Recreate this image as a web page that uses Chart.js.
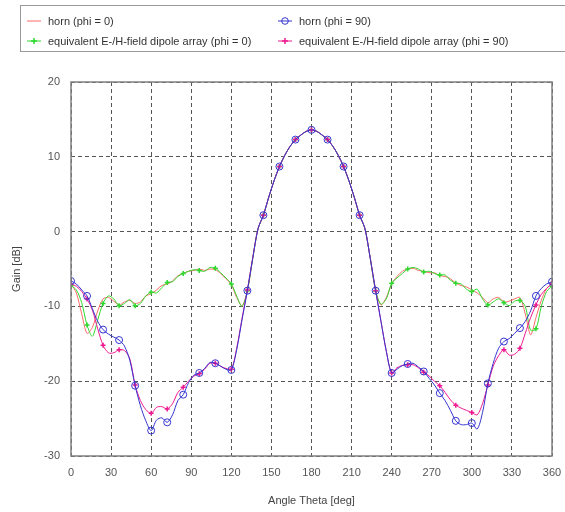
<!DOCTYPE html>
<html>
<head>
<meta charset="utf-8">
<script src="https://cdn.jsdelivr.net/npm/chart.js@4"></script>
<style>
  html,body{margin:0;padding:0;background:#fff;}
  #wrap{position:relative;width:565px;height:512px;}
  #legend{position:absolute;left:20px;top:5px;width:545px;height:47px;border:1px solid #999;border-right:none;box-sizing:border-box;font-family:"Liberation Sans",Arial,sans-serif;font-size:11px;color:#333;}
  .item{position:absolute;display:flex;align-items:center;white-space:nowrap;}
  .item svg{margin-right:7px;}
</style>
</head>
<body>
<div id="wrap">
  <canvas id="c" width="565" height="512"></canvas>
  <div id="legend"></div>
</div>
<script>
// Angle Theta [deg]
const theta = [];
for (let t = 0; t <= 360; t += 4) theta.push(t);

const seriesNames = [
  'horn (phi = 0)',
  'horn (phi = 90)',
  'equivalent E-/H-field dipole array (phi = 0)',
  'equivalent E-/H-field dipole array (phi = 90)'
];

const xTicks = [0,30,60,90,120,150,180,210,240,270,300,330,360];
const yTicks = [-30,-20,-10,0,10,20];

// horn (phi = 0)
const hornPhi0 = [
 -7.0,-8.2,-11.0,-13.6,-12.8,-10.6,-9.0,-8.8,-9.3,-9.8,
 -9.4,-9.2,-9.6,-9.4,-8.6,-8.3,-7.8,-7.2,-7.0,-6.6,
 -5.9,-5.6,-5.3,-5.2,-5.0,-5.2,-5.0,-5.1,-5.6,-6.3,
 -7.1,-8.8,-9.9,-7.9,-3.6,0.4,2.2,4.6,6.8,8.7,
 10.2,11.4,12.3,12.9,13.4,13.6,13.4,12.9,12.3,11.4,
 10.2,8.7,6.8,4.6,2.2,0.4,-3.6,-7.9,-9.8,-8.8,
 -7.0,-6.0,-5.3,-5.0,-4.9,-5.2,-5.3,-5.5,-5.5,-5.9,
 -6.0,-6.3,-6.9,-7.2,-7.4,-7.8,-8.2,-8.8,-9.5,-9.0,
 -8.8,-9.4,-9.3,-9.0,-8.8,-11.0,-13.8,-11.5,-9.2,-7.6,
 -7.0
];

// horn (phi = 90)
const hornPhi90 = [
 -6.6,-7.0,-7.8,-8.6,-10.3,-12.0,-13.1,-13.7,-14.1,-14.5,
 -15.3,-17.2,-20.6,-23.3,-25.3,-26.6,-25.2,-24.9,-25.5,-24.5,
 -22.6,-21.8,-20.2,-19.2,-18.9,-18.3,-17.5,-17.6,-18.0,-18.4,
 -18.5,-15.8,-11.8,-7.9,-3.6,0.4,2.2,4.6,6.8,8.7,
 10.2,11.4,12.3,12.9,13.4,13.6,13.4,12.9,12.3,11.4,
 10.2,8.7,6.8,4.6,2.2,0.4,-3.6,-7.9,-12.0,-16.0,
 -18.9,-18.4,-17.9,-17.7,-17.6,-18.1,-18.7,-19.6,-20.5,-21.6,
 -22.6,-23.9,-25.3,-25.8,-25.8,-25.6,-26.4,-24.2,-20.3,-17.6,
 -15.6,-14.7,-14.3,-13.6,-12.9,-12.0,-10.6,-8.6,-7.6,-7.0,
 -6.7
];

// equivalent E-/H-field dipole array (phi = 0)
const dipolePhi0 = [
 -7.2,-7.8,-9.5,-12.5,-14.0,-11.8,-9.6,-8.6,-9.0,-9.9,
 -9.6,-9.1,-9.9,-9.6,-8.6,-8.1,-8.2,-7.5,-6.8,-6.7,
 -6.0,-5.6,-5.3,-5.1,-5.2,-5.3,-4.8,-4.9,-5.5,-6.2,
 -7.0,-8.6,-10.0,-7.9,-3.6,0.4,2.2,4.6,6.8,8.7,
 10.2,11.4,12.3,12.9,13.4,13.6,13.4,12.9,12.3,11.4,
 10.2,8.7,6.8,4.6,2.2,0.4,-3.6,-7.9,-9.7,-9.0,
 -6.9,-6.2,-5.6,-5.0,-4.8,-5.0,-5.4,-5.3,-5.6,-5.8,
 -5.8,-6.5,-6.9,-7.0,-7.7,-8.0,-7.7,-9.0,-9.8,-9.4,
 -9.0,-9.5,-9.9,-9.3,-9.2,-10.0,-13.2,-13.0,-10.0,-8.0,
 -7.3
];

// equivalent E-/H-field dipole array (phi = 90)
const dipolePhi90 = [
 -7.0,-7.3,-8.0,-9.0,-10.5,-13.0,-15.2,-16.2,-16.2,-15.8,
 -15.9,-17.0,-20.5,-22.6,-23.8,-24.3,-23.5,-23.4,-23.7,-23.0,
 -21.5,-20.8,-20.0,-19.3,-19.0,-18.4,-17.6,-17.6,-18.0,-18.3,
 -18.4,-15.6,-11.6,-7.8,-3.5,0.4,2.2,4.6,6.8,8.7,
 10.2,11.4,12.3,12.9,13.4,13.6,13.4,12.9,12.3,11.4,
 10.2,8.7,6.8,4.6,2.2,0.4,-3.6,-7.9,-12.0,-16.0,
 -18.9,-18.2,-17.9,-17.8,-17.8,-18.2,-18.8,-19.3,-20.0,-20.6,
 -21.5,-22.5,-23.2,-23.6,-23.9,-24.2,-24.5,-23.0,-20.5,-18.0,
 -16.6,-15.8,-16.5,-16.4,-15.6,-13.6,-11.5,-9.8,-8.4,-7.6,
 -6.9
];

const colors = ['#ff6a6a', '#3434d0', '#2ed82e', '#ee1890'];
const toXY = vals => theta.map((t, i) => ({x: t, y: vals[i]}));
const every3 = r => ctx => (ctx.dataIndex % 3 === 0 ? r : 0);

const datasets = [
  {label: seriesNames[0], data: toXY(hornPhi0), borderColor: colors[0], borderWidth: 1, pointRadius: 0, tension: 0.3, order: 4},
  {label: seriesNames[2], data: toXY(dipolePhi0), borderColor: colors[2], borderWidth: 1, pointStyle: 'cross', pointRadius: every3(2.5), pointBorderColor: colors[2], pointBorderWidth: 1.5, tension: 0.3, order: 3},
  {label: seriesNames[3], data: toXY(dipolePhi90), borderColor: colors[3], borderWidth: 1, pointStyle: 'cross', pointRadius: every3(2.5), pointBorderColor: colors[3], pointBorderWidth: 1.5, tension: 0.3, order: 2},
  {label: seriesNames[1], data: toXY(hornPhi90), borderColor: colors[1], borderWidth: 1, pointStyle: 'circle', pointRadius: every3(3.5), pointBorderColor: colors[1], pointBackgroundColor: 'rgba(255,255,255,0)', pointBorderWidth: 1, tension: 0.3, order: 1}
];

const frame = {
  id: 'frame',
  afterDatasetsDraw(chart) {
    const a = chart.chartArea, ctx = chart.ctx;
    ctx.save();
    ctx.strokeStyle = '#808080';
    ctx.lineWidth = 1.5;
    ctx.strokeRect(a.left, a.top, a.right - a.left, a.bottom - a.top);
    ctx.restore();
  }
};

new Chart(document.getElementById('c'), {
  type: 'line',
  data: {datasets},
  options: {
    responsive: false,
    animation: false,
    events: [],
    layout: {padding: {left: 0, top: 82, right: 13, bottom: 0}},
    plugins: {legend: {display: false}, tooltip: {enabled: false}},
    scales: {
      x: {
        type: 'linear', min: 0, max: 360,
        afterBuildTicks: s => { s.ticks = xTicks.map(v => ({value: v})); },
        afterFit: s => { s.height = 56; s.paddingRight = 0; s.paddingLeft = 0; },
        grid: {color: '#555', lineWidth: 1, drawTicks: false},
        border: {display: false, dash: [4, 3]},
        ticks: {padding: 10, color: '#555', font: {family: 'Liberation Sans', size: 11}, maxRotation: 0},
        title: {display: true, text: 'Angle Theta [deg]', color: '#444', font: {family: 'Liberation Sans', size: 11}, padding: {top: 10}}
      },
      y: {
        min: -30, max: 20,
        afterBuildTicks: s => { s.ticks = yTicks.map(v => ({value: v})); },
        afterFit: s => { s.width = 71; s.paddingTop = 0; s.paddingBottom = 0; },
        grid: {color: '#555', lineWidth: 1, drawTicks: false},
        border: {display: false, dash: [4, 3]},
        ticks: {padding: 11, color: '#555', font: {family: 'Liberation Sans', size: 11}},
        title: {display: true, text: 'Gain [dB]', color: '#444', font: {family: 'Liberation Sans', size: 11}, padding: {top: 10, bottom: 0}}
      }
    }
  },
  plugins: [frame]
});

// Legend (HTML, from seriesNames / colors)
const legend = document.getElementById('legend');
const icons = [
  c => `<svg width="14" height="10"><line x1="0" y1="5" x2="14" y2="5" stroke="${c}" stroke-width="1"/></svg>`,
  c => `<svg width="14" height="10"><line x1="0" y1="5" x2="14" y2="5" stroke="${c}" stroke-width="1"/><circle cx="7" cy="5" r="3.3" fill="none" stroke="${c}" stroke-width="1"/></svg>`,
  c => `<svg width="14" height="10"><line x1="0" y1="5" x2="14" y2="5" stroke="${c}" stroke-width="1"/><line x1="7" y1="2" x2="7" y2="8" stroke="${c}" stroke-width="1.5"/><line x1="4" y1="5" x2="10" y2="5" stroke="${c}" stroke-width="1.5"/></svg>`,
  c => `<svg width="14" height="10"><line x1="0" y1="5" x2="14" y2="5" stroke="${c}" stroke-width="1"/><line x1="7" y1="2" x2="7" y2="8" stroke="${c}" stroke-width="1.5"/><line x1="4" y1="5" x2="10" y2="5" stroke="${c}" stroke-width="1.5"/></svg>`
];
const pos = [[6, 9], [257, 9], [6, 29], [257, 29]];
seriesNames.forEach((n, i) => {
  const d = document.createElement('div');
  d.className = 'item';
  d.style.left = pos[i][0] + 'px';
  d.style.top = pos[i][1] + 'px';
  d.innerHTML = icons[i](colors[i]) + '<span>' + n + '</span>';
  legend.appendChild(d);
});
</script>
</body>
</html>
